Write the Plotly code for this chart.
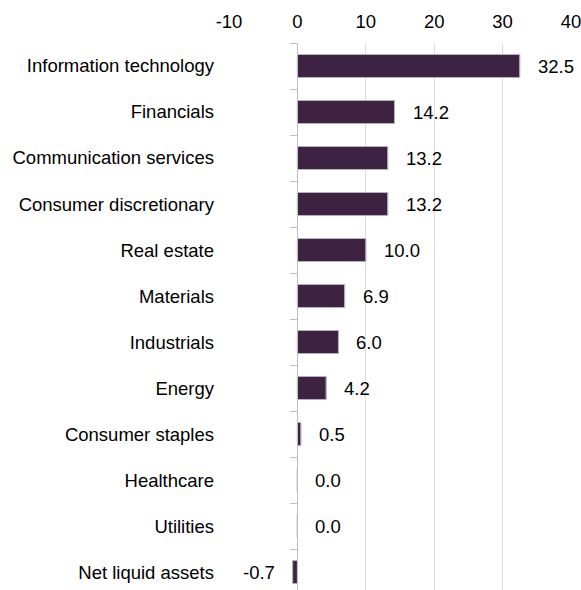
import plotly.graph_objects as go

# Sector weights (%), listed top to bottom
sectors = [
    "Information technology",
    "Financials",
    "Communication services",
    "Consumer discretionary",
    "Real estate",
    "Materials",
    "Industrials",
    "Energy",
    "Consumer staples",
    "Healthcare",
    "Utilities",
    "Net liquid assets",
]
weights = [32.5, 14.2, 13.2, 13.2, 10.0, 6.9, 6.0, 4.2, 0.5, 0.0, 0.0, -0.7]
x_ticks = [-10, 0, 10, 20, 30, 40]
x_tick_labels = ["-10", "0", "10", "20", "30", "40"]

FONT = "Arial, Liberation Sans, sans-serif"
FS = 18.5
BAR = "#3d2341"
GRID = "#dcdcdc"
AXIS = "#bfbfbf"

n = len(sectors)
y_range = [n - 0.5 - 0.11, -0.5]

fig = go.Figure()

fig.add_trace(go.Bar(
    x=weights,
    y=sectors,
    orientation="h",
    width=0.5,
    marker=dict(color=BAR, line=dict(color="#85768a", width=1)),
    hoverinfo="skip",
))

# invisible copy on a second category axis that sits on the zero line
fig.add_trace(go.Bar(
    x=weights,
    y=sectors,
    orientation="h",
    width=0.5,
    yaxis="y2",
    marker=dict(color="rgba(0,0,0,0)"),
    hoverinfo="skip",
    showlegend=False,
))

# value labels beside each bar end
for s, v in zip(sectors, weights):
    fig.add_annotation(
        x=v, y=s, xref="x", yref="y",
        text=f"{v:.1f}",
        showarrow=False,
        xanchor="left" if v >= 0 else "right",
        xshift=16 if v >= 0 else -16,
        font=dict(family=FONT, size=FS, color="#000000"),
    )

x_min, x_max = x_ticks[0], x_ticks[-1]

fig.update_layout(
    width=581,
    height=590,
    margin=dict(l=229, r=10, t=43, b=0),
    paper_bgcolor="white",
    plot_bgcolor="white",
    showlegend=False,
    font=dict(family=FONT, size=FS, color="#000000"),
    xaxis=dict(
        side="top",
        range=[x_min, x_max],
        tickmode="array",
        tickvals=x_ticks,
        ticktext=x_tick_labels,
        ticklabeloverflow="allow",
        ticklabelstandoff=10,
        showgrid=True,
        gridcolor=GRID,
        gridwidth=1,
        zeroline=False,
        showline=False,
        ticks="",
        tickfont=dict(family=FONT, size=FS, color="#000000"),
    ),
    yaxis=dict(
        type="category",
        categoryorder="array",
        categoryarray=sectors,
        range=y_range,
        showgrid=False,
        zeroline=False,
        showline=False,
        ticks="",
        ticklabelstandoff=14,
        tickfont=dict(family=FONT, size=FS, color="#000000"),
    ),
    yaxis2=dict(
        type="category",
        categoryorder="array",
        categoryarray=sectors,
        range=y_range,
        overlaying="y",
        anchor="free",
        side="left",
        position=(0 - x_min) / (x_max - x_min),
        showgrid=False,
        zeroline=False,
        showline=True,
        linecolor=AXIS,
        linewidth=1,
        ticks="outside",
        tickson="boundaries",
        ticklen=7,
        tickcolor=AXIS,
        showticklabels=False,
    ),
)

fig.write_html("out.html")
